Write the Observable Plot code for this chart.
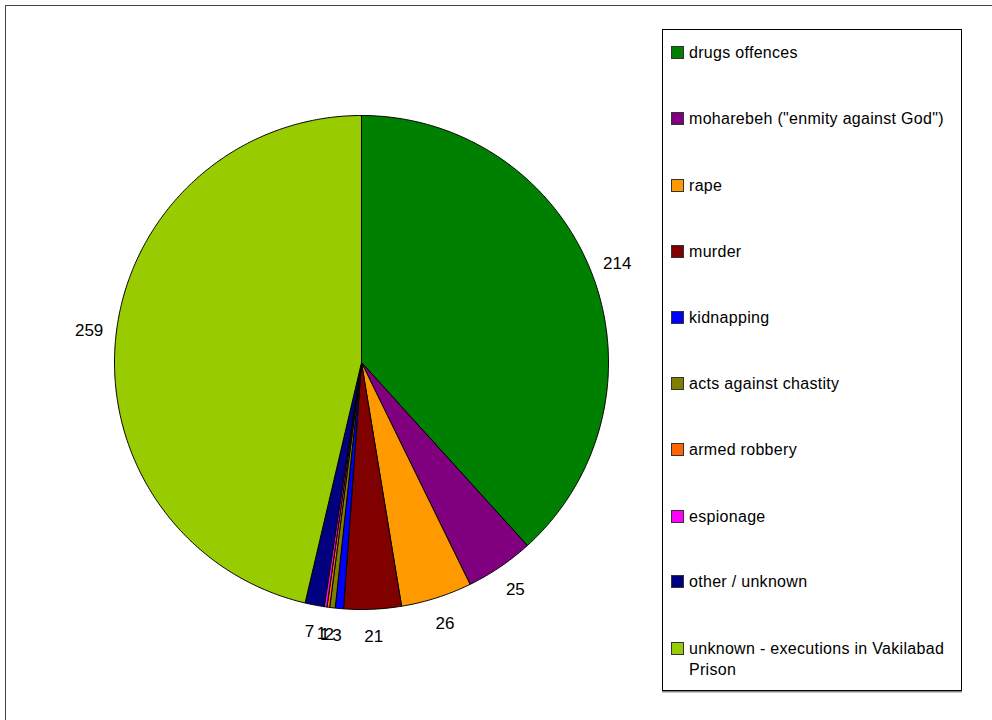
<!DOCTYPE html>
<html>
<head>
<meta charset="utf-8">
<script src="https://cdn.jsdelivr.net/npm/d3@7"></script>
<script src="https://cdn.jsdelivr.net/npm/@observablehq/plot@0.6"></script>
<style>
  html, body { margin: 0; padding: 0; background: #fff; }
  #wrap { position: relative; width: 992px; height: 720px; overflow: hidden; font-family: "Liberation Sans", Arial, sans-serif; }
  #frame { position: absolute; left: 5px; top: 5px; width: 1200px; height: 1000px; border-left: 1.5px solid #444; border-top: 1.5px solid #444; pointer-events: none; }
  #legend { position: absolute; left: 662px; top: 29px; width: 300px; height: 662px; border: 1px solid #000; box-shadow: 0 1.5px 0 #888; background: #fff; box-sizing: border-box; }
  .item { position: absolute; left: 8px; font-size: 16px; line-height: 21px; color: #000; letter-spacing: 0.3px; }
  .sw { position: absolute; left: 0; top: 4px; width: 11px; height: 11px; border: 1px solid #333; }
  .lbl { margin-left: 18px; display: block; width: 270px; }
</style>
</head>
<body>
<div id="wrap">
  <div id="chart"></div>
  <div id="frame"></div>
  <div id="legend"></div>
</div>
<script>
const categories = ["drugs offences", "moharebeh (\"enmity against God\")", "rape", "murder", "kidnapping", "acts against chastity", "armed robbery", "espionage", "other / unknown", "unknown - executions in Vakilabad Prison"];
const values = [214, 25, 26, 21, 3, 2, 1, 1, 7, 259];
const colors = ["#008000", "#800080", "#FF9900", "#800000", "#0000FF", "#808000", "#FF6600", "#FF00FF", "#000080", "#99CC00"];

const data = categories.map((name, i) => ({name, value: values[i]}));
const arcs = d3.pie().sort(null).value(d => d.value).startAngle(0).endAngle(2 * Math.PI)(data);

// slice polygons derived from the pie layout
const poly = [];
arcs.forEach(a => {
  const n = Math.max(2, Math.ceil((a.endAngle - a.startAngle) / (Math.PI / 360)));
  poly.push({name: a.data.name, x: 0, y: 0});
  for (let k = 0; k <= n; k++) {
    const t = a.startAngle + (a.endAngle - a.startAngle) * k / n;
    poly.push({name: a.data.name, x: Math.sin(t), y: Math.cos(t)});
  }
  poly.push({name: a.data.name, x: 0, y: 0});
});
const labelR = 1.11;
const labels = arcs.map(a => {
  const m = (a.startAngle + a.endAngle) / 2;
  return {name: a.data.name, value: a.data.value, x: labelR * Math.sin(m), y: labelR * Math.cos(m)};
});

const W = 992, H = 720, cx = 361, cy = 362, R = 247;
const chart = Plot.plot({
  width: W, height: H, margin: 0,
  x: {type: "linear", domain: [-cx / R, (W - cx) / R], range: [0, W], axis: null},
  y: {type: "linear", domain: [-(H - cy) / R, cy / R], range: [H, 0], axis: null},
  color: {domain: categories, range: colors},
  style: {fontFamily: "Liberation Sans, Arial, sans-serif", background: "transparent"},
  marks: [
    Plot.line(poly, {x: "x", y: "y", z: "name", fill: "name", stroke: "#000", strokeWidth: 1, strokeLinejoin: "round"}),
    Plot.text(labels, {x: "x", y: "y", text: d => String(d.value), fontSize: 17, fill: "#000"})
  ]
});
document.getElementById("chart").appendChild(chart);

const legend = document.getElementById("legend");
const rowTop = [12, 78, 145, 211, 277, 343, 409, 476, 541, 608];
categories.forEach((c, i) => {
  const it = document.createElement("div");
  it.className = "item";
  it.style.top = rowTop[i] + "px";
  it.innerHTML = `<span class="sw" style="background:${colors[i]}"></span><span class="lbl"></span>`;
  it.querySelector(".lbl").textContent = c;
  legend.appendChild(it);
});
</script>
</body>
</html>
